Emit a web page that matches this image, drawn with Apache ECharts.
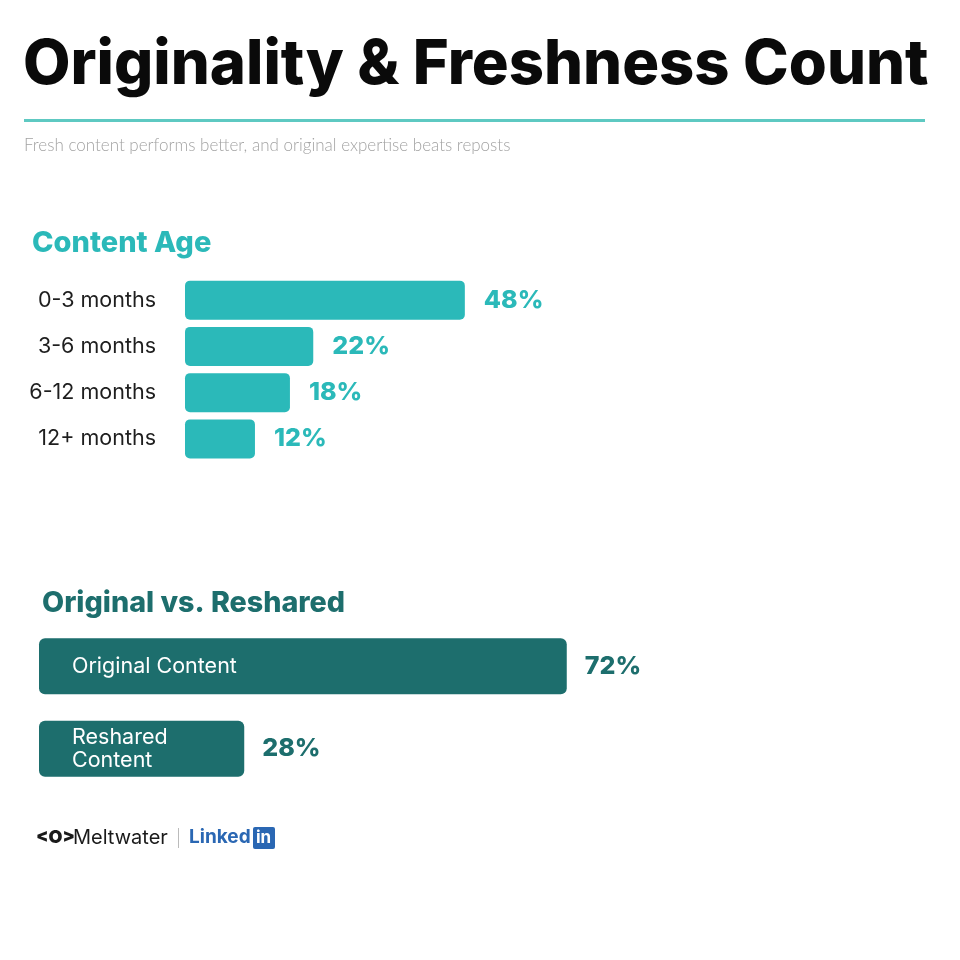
<!DOCTYPE html>
<html>
<head>
<meta charset="utf-8">
<script src="https://cdn.jsdelivr.net/npm/echarts@6/dist/echarts.min.js"></script>
<style>
  body { margin: 0; background: #fff; }
  #main { width: 960px; height: 960px; }
</style>
</head>
<body>
<div id="main"></div>
<script>
  // content age section
  var ageCategories = ['0-3 months', '3-6 months', '6-12 months', '12+ months']
  var ageValues = [48, 22, 18, 12]
  // original vs reshared section
  var sourceCategories = ['Original Content', 'Reshared\nContent']
  var sourceValues = [72, 28]

  var teal = '#2bb9b9'
  var darkTeal = '#1d6e6d'

  var myChart = echarts.init(document.getElementById('main'))
  var option = {
    backgroundColor: '#fff',
    textStyle: { fontFamily: 'Inter' },
    graphic: [
      {
        type: 'text', left: 23, top: 35,
        style: { text: 'Originality & Freshness Count', font: '800 61.5px Inter', fill: '#0a0a0a' }
      },
      {
        type: 'rect', shape: { x: 24, y: 119, width: 901, height: 3 },
        style: { fill: '#5ec9c2' }
      },
      {
        type: 'text', left: 24, top: 137,
        style: { text: 'Fresh content performs better, and original expertise beats reposts', font: '300 17px Lato', fill: '#a3a3a3' }
      },
      {
        type: 'text', left: 32, top: 229,
        style: { text: 'Content Age', font: '800 29px Inter', fill: teal }
      },
      {
        type: 'text', left: 42, top: 589,
        style: { text: 'Original vs. Reshared', font: '800 28.7px Inter', fill: darkTeal }
      },
      // footer logos
      {
        type: 'text', left: 36, top: 829,
        style: { text: '<O>', font: '900 18px Inter', fill: '#1a1a1a' }
      },
      {
        type: 'text', left: 73, top: 828,
        style: { text: 'Meltwater', font: '20px Inter', fill: '#1a1a1a' }
      },
      {
        type: 'rect', shape: { x: 178, y: 828, width: 1, height: 20 },
        style: { fill: '#bbbbbb' }
      },
      {
        type: 'text', left: 189, top: 828,
        style: { text: 'Linked', font: 'bold 19px Inter', fill: '#2a67b3' }
      },
      {
        type: 'rect', shape: { x: 253, y: 827, width: 22, height: 22, r: 2 },
        style: { fill: '#2a67b3' }
      },
      {
        type: 'text', left: 256, top: 829,
        style: { text: 'in', font: 'bold 17px Inter', fill: '#fff' }
      }
    ],
    grid: [
      { left: 185, top: 277, width: 583, height: 185 },
      { left: 39, top: 625, width: 733, height: 165 }
    ],
    xAxis: [
      { type: 'value', gridIndex: 0, min: 0, max: 100, show: false },
      { type: 'value', gridIndex: 1, min: 0, max: 100, show: false }
    ],
    yAxis: [
      {
        type: 'category', gridIndex: 0, inverse: true, data: ageCategories,
        axisLine: { show: false }, axisTick: { show: false },
        axisLabel: { color: '#1e1e1e', fontSize: 21.5, margin: 29 }
      },
      {
        type: 'category', gridIndex: 1, inverse: true, data: sourceCategories,
        show: false
      }
    ],
    series: [
      {
        name: 'Content Age',
        type: 'bar',
        xAxisIndex: 0, yAxisIndex: 0,
        data: ageValues,
        barWidth: 39,
        itemStyle: { color: teal, borderRadius: 5 },
        label: {
          show: true, position: 'right', distance: 19,
          formatter: '{c}%', color: teal, fontSize: 25, fontWeight: 800
        }
      },
      {
        name: 'Original vs. Reshared',
        type: 'bar',
        xAxisIndex: 1, yAxisIndex: 1,
        data: sourceValues,
        barWidth: 56,
        barGap: '-100%',
        itemStyle: { color: darkTeal, borderRadius: 6 },
        label: {
          show: true, position: 'right', distance: 18,
          formatter: '{c}%', color: darkTeal, fontSize: 25, fontWeight: 800
        }
      },
      {
        // same bars again, only to carry the names inside
        name: 'names',
        type: 'bar',
        xAxisIndex: 1, yAxisIndex: 1,
        data: sourceValues,
        barWidth: 56,
        itemStyle: { color: 'rgba(0,0,0,0)' },
        label: {
          show: true, position: 'insideLeft', distance: 33,
          formatter: '{b}', color: '#fff', fontSize: 21.5, lineHeight: 23
        }
      }
    ]
  }
  myChart.setOption(option)
</script>
</body>
</html>
